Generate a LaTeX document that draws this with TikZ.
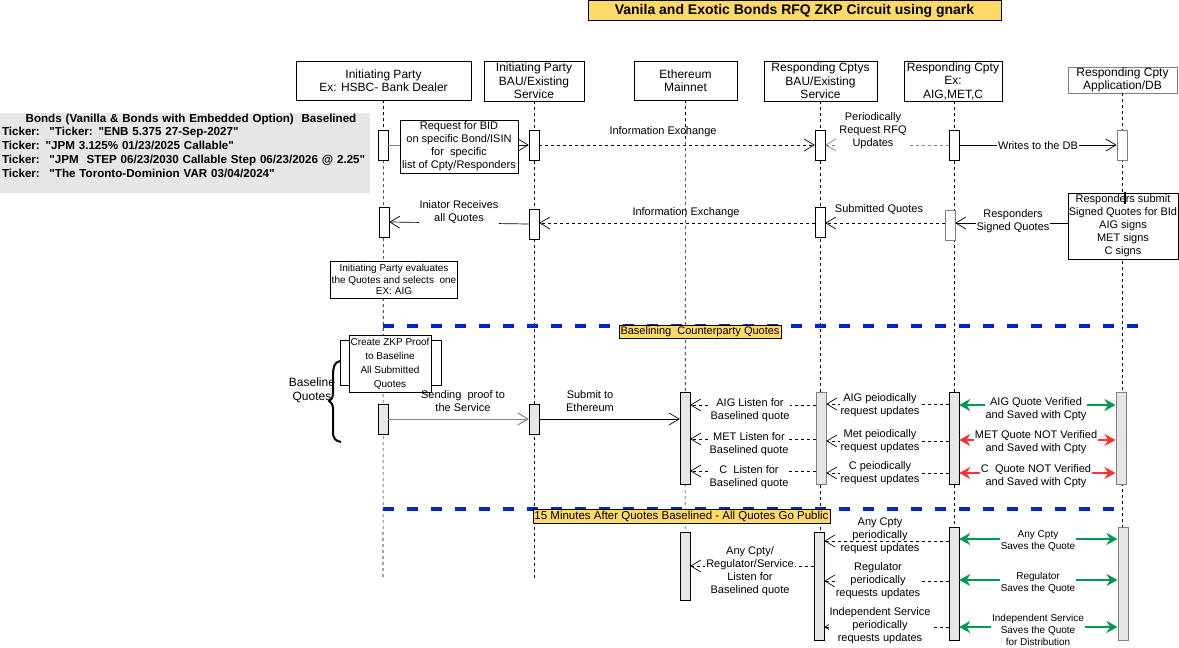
\documentclass[tikz,border=0pt]{standalone}
\usepackage{fontspec}
\setmainfont[Ligatures=TeXOff]{Liberation Sans}
\usetikzlibrary{arrows.meta}
\definecolor{notey}{HTML}{FFD966}
\definecolor{actgray}{HTML}{E6E6E6}
\definecolor{sepblue}{HTML}{0028C8}
\definecolor{okgreen}{HTML}{00994D}
\definecolor{badred}{HTML}{FF3333}
\newcommand{\qq}{\char34\relax}

\begin{document}
\begin{tikzpicture}[x=1pt,y=-1pt,
  head/.style={draw,minimum height=39,inner sep=0,align=center,font=\fontsize{12}{13.5}\selectfont},
  act/.style={draw,fill=white,minimum width=10,inner sep=0},
  bact/.style={act,fill=actgray},
  life/.style={dash pattern=on 3pt off 3pt,line width=0.6pt},
  msg/.style={-{Straight Barb[length=10pt,width=12pt]},line width=0.7pt},
  dmsg/.style={msg,dash pattern=on 3pt off 3pt},
  lbl/.style={align=center,inner sep=1pt,font=\fontsize{11}{13}\selectfont},
  wlbl/.style={lbl,fill=white},
  small/.style={font=\fontsize{10}{12}\selectfont},
  note/.style={draw,fill=white,align=center,inner sep=0},
  sep/.style={sepblue,line width=3.5pt,dash pattern=on 11pt off 13pt},
  tag/.style={draw,fill=notey,inner sep=1.5pt,font=\fontsize{11}{13}\selectfont},
  good/.style={{Stealth[length=11pt,width=12pt]}-{Stealth[length=11pt,width=12pt]},okgreen,line width=2.6pt},
  bad/.style={good,badred}]

\useasboundingbox (0,0) rectangle (1179,648);

\node[tag,font=\bfseries\fontsize{14}{16}\selectfont,minimum width=413,minimum height=20,inner sep=0] (ttl) at (794.5,10.5) {Vanila and Exotic Bonds RFQ ZKP Circuit using gnark};

\node[fill=actgray,minimum width=370,minimum height=80,inner sep=0] (bonds) at (185,153) {};
\node[anchor=north,inner sep=0,text width=368,align=left,font=\bfseries\fontsize{11.6}{13.8}\selectfont] (bondtxt) at (186,113.5) {\makebox[368pt][c]{\hspace{10pt}Bonds (Vanilla \& Bonds with Embedded Option)~ Baselined}\\
Ticker:~ \qq Ticker: \qq ENB 5.375 27-Sep-2027\qq\\
Ticker: \qq JPM 3.125\% 01/23/2025 Callable\qq\\
Ticker:~ \qq JPM~ STEP 06/23/2030 Callable Step 06/23/2026 @ 2.25\qq\\
Ticker:~ \qq The Toronto-Dominion VAR 03/04/2024\qq};

\node[head,minimum width=175] (hA) at (383.5,80.5) {Initiating Party\\Ex: HSBC- Bank Dealer};
\node[head,minimum width=100,minimum height=40] (hB) at (534,81) {Initiating Party\\BAU/Existing\\Service};
\node[head,minimum width=103] (hC) at (685.5,80.5) {Ethereum\\Mainnet};
\node[head,minimum width=113,minimum height=40] (hD) at (820.5,81) {Responding Cptys\\BAU/Existing\\Service};
\node[head,minimum width=98,minimum height=40] (hE) at (953,81) {Responding Cpty\\Ex:\\AIG,MET,C};
\node[head,minimum width=109,minimum height=26,draw=gray,font=\fontsize{12}{13}\selectfont] (hF) at (1122.5,80) {Responding Cpty\\Application/DB};

\coordinate (eA) at (383,578);
\coordinate (eB) at (534,578);
\coordinate (eC) at (685,600);
\coordinate (eD) at (820,640);
\coordinate (eE) at (954,640);
\coordinate (eF) at (1122,640);
\draw[life] (hA) -- (eA);
\draw[life] (hB) -- (eB);
\draw[life] (hC) -- (eC);
\draw[life] (hD.south -| eD) -- (eD);
\draw[life] (hE.south -| eE) -- (eE);
\draw[life] (hF.south -| eF) -- (eF);

\node[act,minimum height=30] (a1) at (383,145) {};
\node[act,minimum height=30] (a2) at (534,145) {};
\node[act,minimum height=30] (a4) at (820,145) {};
\node[act,minimum height=30] (a5) at (954,145) {};
\node[act,minimum height=30,draw=gray,line width=1pt] (a6) at (1122,145) {};

\node[note,minimum width=118,minimum height=53,font=\fontsize{11}{13}\selectfont] (rq) at (459,146.5) {Request for BID\\on specific Bond/ISIN\\for~ specific\\list of Cpty/Responders};

\draw[gray,line width=1pt] (a1.east) -- (rq.west |- a1.east);
\draw[msg] (rq.east |- a1.east) -- (a2.west);
\draw[dmsg] (a2.east) -- (a4.west);
\node[lbl] (m1) at (663,132) {Information Exchange};
\draw[dmsg,gray] (a5.west) -- (a4.east);
\node[wlbl] (m2) at (873,131) {Periodically\\Request RFQ\\Updates};
\draw[msg] (a5.east) -- (a6.west);
\node[wlbl] (m3) at (1038,146) {Writes to the DB};

\node[act,minimum height=30] (b1) at (384,222) {};
\node[act,minimum height=30] (b2) at (534,224) {};
\node[act,minimum height=30] (b4) at (820,222) {};
\node[act,minimum height=30,draw=gray] (b5) at (950,225) {};
\node[note,minimum width=110,minimum height=66,font=\fontsize{11}{13}\selectfont] (rs) at (1123,226) {Responders submit\\Signed Quotes for BId\\AIG signs\\MET signs\\C signs};
\draw[line width=2pt] (1125,192) -- (1125,204);

\draw[msg] (b2.west) -- (b1.east);
\node[wlbl] (m4) at (459,212.5) {Iniator Receives\\all Quotes};
\draw[dmsg] (b4.west |- 0,223) -- (b2.east |- 0,223);
\node[lbl] (m5) at (686,213) {Information Exchange};
\draw[dmsg] (b5.west |- 0,223) -- (b4.east |- 0,223);
\node[lbl] (m6) at (879,210) {Submitted Quotes};
\draw[msg] (rs.west |- 0,223) -- (b5.east |- 0,223);
\node[wlbl] (m7) at (1013,221.5) {Responders\\Signed Quotes};

\node[note,minimum width=127,minimum height=37,font=\fontsize{10}{11.5}\selectfont] (ev) at (394,279.5) {Initiating Party evaluates\\the Quotes and selects~ one\\EX: AIG};

\draw[sep] (383,326) -- (1145,326);
\node[tag] (t1) at (700,331.5) {Baselining~ Counterparty Quotes};

\node[draw,fill=white,minimum width=101,minimum height=45,inner sep=0] (zkb) at (390.5,362.5) {};
\node[note,minimum width=82,minimum height=57,font=\fontsize{10}{14}\selectfont] (zk) at (390,363.5) {Create ZKP Proof\\to Baseline\\All Submitted\\Quotes};
\node[lbl,font=\fontsize{12}{14}\selectfont] (bq) at (312,390) {Baseline\\Quotes};
\draw[line width=2pt] (340,361) .. controls (334,362) and (333,368) .. (333,376) -- (333,393) .. controls (333,398) and (331,400) .. (329,401) .. controls (331,402) and (333,404) .. (333,409) -- (333,432) .. controls (333,439) and (336,441) .. (341,442);

\node[bact,minimum height=30] (c1) at (383,419) {};
\node[bact,minimum height=30] (c2) at (534,419) {};
\node[bact,minimum height=92] (c3) at (685,438) {};
\node[bact,minimum height=92,draw=gray] (c4) at (821,438) {};
\node[bact,minimum height=92] (c5) at (954,438) {};
\node[bact,minimum height=92,draw=gray,line width=1pt] (c6) at (1121,438) {};

\draw[msg,gray,line width=1pt] (c1.east) -- (c2.west);
\node[lbl,font=\fontsize{11}{13.5}\selectfont] (m8) at (463,401) {Sending~ proof to\\the Service};
\draw[msg] (c2.east) -- (c3.west |- c2.east);
\node[lbl,font=\fontsize{11}{13.5}\selectfont] (m9) at (590,401) {Submit to\\Ethereum};

\draw[dmsg] (c4.west |- 0,405) -- (c3.east |- 0,405);
\node[wlbl] (l1) at (750,410.5) {AIG Listen for\\Baselined quote};
\draw[dmsg] (c4.west |- 0,439) -- (c3.east |- 0,439);
\node[wlbl] (l2) at (749,444.5) {MET Listen for\\Baselined quote};
\draw[dmsg] (c4.west |- 0,471) -- (c3.east |- 0,471);
\node[wlbl] (l3) at (749,477) {C~ Listen for\\Baselined quote};

\draw[dmsg] (c5.west |- 0,404) -- (c4.east |- 0,404);
\node[wlbl] (p1) at (880,405) {AIG peiodically\\request updates};
\draw[dmsg] (c5.west |- 0,441) -- (c4.east |- 0,441);
\node[wlbl] (p2) at (880,441) {Met peiodically\\request updates};
\draw[dmsg] (c5.west |- 0,473) -- (c4.east |- 0,473);
\node[wlbl] (p3) at (880,473) {C peiodically\\request updates};

\draw[good] (c5.east |- 0,405) -- (c6.west |- 0,405);
\node[wlbl] (v1) at (1036,409) {AIG Quote Verified\\and Saved with Cpty};
\draw[bad] (c5.east |- 0,440) -- (c6.west |- 0,440);
\node[wlbl] (v2) at (1036,442.5) {MET Quote NOT Verified\\and Saved with Cpty};
\draw[bad] (c5.east |- 0,473) -- (c6.west |- 0,473);
\node[wlbl] (v3) at (1036,476) {C~ Quote NOT Verified\\and Saved with Cpty};

\draw[sep] (383,509) -- (1122,509);
\node[tag,font=\fontsize{11.5}{13}\selectfont] (t2) at (681.5,516) {15 Minutes After Quotes Baselined - All Quotes Go Public};

\node[bact,minimum height=68] (d3) at (685,566) {};
\node[bact,minimum height=108] (d4) at (819,586) {};
\node[bact,minimum height=113] (d5) at (954,583.5) {};
\node[bact,minimum height=113,draw=gray,line width=1pt] (d6) at (1123,583.5) {};

\draw[dmsg] (d4.west |- 0,566) -- (d3.east |- 0,566);
\node[wlbl] (l4) at (750,571.5) {Any Cpty/\\Regulator/Service\\Listen for\\Baselined quote};
\draw[dmsg] (d5.west |- 0,541) -- (d4.east |- 0,541);
\node[lbl] (p4) at (880,536) {Any Cpty\\periodically\\request updates};
\draw[dmsg] (d5.west |- 0,581) -- (d4.east |- 0,581);
\node[wlbl] (p5) at (878,581) {Regulator\\periodically\\requests updates};
\draw[dmsg] (d5.west |- 0,627) -- (d4.east |- 0,627);
\node[wlbl] (p6) at (880,626) {Independent Service\\periodically\\requests updates};

\draw[good] (d5.east |- 0,539) -- (d6.west |- 0,539);
\node[wlbl,small] (s1) at (1038,541) {Any Cpty\\Saves the Quote};
\draw[good] (d5.east |- 0,580) -- (d6.west |- 0,580);
\node[wlbl,small] (s2) at (1038,583) {Regulator\\Saves the Quote};
\draw[good] (d5.east |- 0,627) -- (d6.west |- 0,627);
\node[wlbl,small] (s3) at (1038,630) {Independent Service\\Saves the Quote\\for Distribution};
\end{tikzpicture}
\end{document}
